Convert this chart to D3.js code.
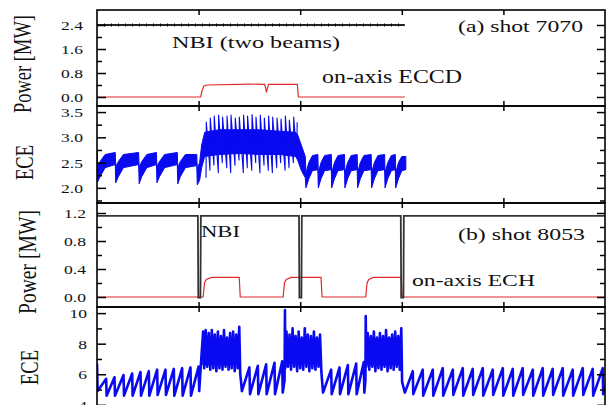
<!DOCTYPE html>
<html><head><meta charset="utf-8">
<script src="https://cdn.jsdelivr.net/npm/d3@7"></script>
<style>html,body{margin:0;padding:0;background:#fff;} svg{display:block;}</style>
</head><body>
<svg id="chart" width="609" height="405"></svg>
<script>
// ================= DATA =================
const timeTicks = [1, 2, 3, 4];

// ---- (a) shot 7070 : power ----
const nbiA_t = [0, 3.03];
const nbiA_v = [2.40, 2.40];
const eccd_t = [0, 1.020, 1.035, 1.050, 1.080, 1.500, 1.650, 1.660, 1.668, 1.676, 1.690, 1.972, 1.982, 3.03];
const eccd_v = [0, 0,     0.22,  0.36,  0.40,  0.43,  0.42,  0.30,  0.15,  0.28,  0.42,  0.42,  0,     0];

// ---- (a) shot 7070 : ECE envelope [t, low, high] ----
const eceA_env = [
  [0.000,2.40,2.72],[0.006,2.12,2.45],[0.030,2.22,2.52],[0.080,2.40,2.66],
  [0.180,2.46,2.70],[0.184,2.10,2.42],[0.210,2.22,2.52],[0.260,2.40,2.66],
  [0.410,2.46,2.70],[0.415,2.08,2.40],[0.440,2.22,2.52],[0.490,2.40,2.66],
  [0.585,2.46,2.70],[0.590,2.10,2.42],[0.615,2.22,2.52],[0.665,2.40,2.66],
  [0.790,2.46,2.70],[0.795,2.08,2.40],[0.820,2.22,2.52],[0.870,2.40,2.66],
  [0.982,2.44,2.66],[0.987,2.06,2.38],[1.010,2.15,2.50],[1.030,2.40,2.85],
  [1.060,2.62,3.10],[1.200,2.66,3.15],[1.400,2.68,3.15],[1.600,2.66,3.15],
  [1.800,2.66,3.12],[1.955,2.62,3.10],[1.975,2.55,3.05],[2.010,2.35,2.85],
  [2.050,2.20,2.62],
  [2.057,2.00,2.30],[2.085,2.18,2.50],[2.120,2.34,2.64],
  [2.174,2.36,2.66],[2.178,2.00,2.30],[2.205,2.18,2.50],[2.240,2.34,2.64],
  [2.306,2.36,2.66],[2.310,2.00,2.30],[2.337,2.18,2.50],[2.372,2.34,2.64],
  [2.436,2.36,2.66],[2.440,2.00,2.30],[2.467,2.18,2.50],[2.502,2.34,2.64],
  [2.561,2.36,2.66],[2.565,2.00,2.30],[2.592,2.18,2.50],[2.627,2.34,2.64],
  [2.699,2.36,2.66],[2.703,2.00,2.30],[2.730,2.18,2.50],[2.765,2.34,2.64],
  [2.831,2.36,2.66],[2.835,2.00,2.30],[2.862,2.18,2.50],[2.897,2.34,2.64],
  [2.936,2.36,2.66],[2.940,2.00,2.30],[2.967,2.18,2.50],[3.000,2.34,2.62],
  [3.040,2.36,2.62]
];
// ECCD-phase sawteeth on ECE (a)
const eceA_spike_t  = [1.073,1.112,1.151,1.194,1.233,1.277,1.316,1.358,1.398,1.440,1.479,1.523,1.562,1.604,1.644,1.686,1.726,1.769,1.808,1.851,1.890,1.933,1.967];
const eceA_spike_hi = [3.30,3.38,3.42,3.44,3.40,3.42,3.44,3.38,3.40,3.44,3.42,3.45,3.40,3.44,3.38,3.42,3.40,3.38,3.36,3.42,3.34,3.40,3.30];
const eceA_spike_lo = [2.20,2.35,2.45,2.30,2.50,2.40,2.30,2.45,2.55,2.30,2.40,2.35,2.50,2.30,2.45,2.35,2.30,2.40,2.50,2.35,2.40,2.50,2.60];

// ---- (b) shot 8053 : power ----
const nbiB_t = [0, 0.993, 0.997, 1.018, 1.022, 1.988, 1.992, 2.012, 2.016, 2.990, 2.994, 3.016, 3.020, 5.0];
const nbiB_v = [1.16, 1.16, -0.01, -0.01, 1.16, 1.16, -0.01, -0.01, 1.16, 1.16, -0.01, -0.01, 1.16, 1.16];
const ech_t = [0, 1.045, 1.058, 1.075, 1.130, 1.400, 1.410, 1.832, 1.845, 1.862, 1.910, 2.205, 2.215, 2.645, 2.658, 2.675, 2.720, 2.995, 3.003, 5.0];
const ech_v = [0, 0,     0.20,  0.25,  0.28,  0.28,  0,     0,     0.20,  0.25,  0.28,  0.28,  0,     0,     0.20,  0.25,  0.28,  0.28,  0,     0];

// ---- (b) shot 8053 : ECE trace [t, value] ----
const eceB_line = [
  [0.000,6.70],[0.006,4.90],[0.090,5.70],[0.095,4.60],[0.172,5.80],[0.177,4.60],
  [0.261,5.95],[0.266,4.60],[0.346,6.05],[0.351,4.60],[0.428,6.15],[0.433,4.60],
  [0.510,6.20],[0.515,4.60],[0.592,6.30],[0.597,4.65],[0.674,6.30],[0.679,4.65],
  [0.756,6.35],[0.761,4.60],[0.838,6.40],[0.843,4.60],[0.920,6.45],[0.925,4.60],
  [1.000,6.50],[1.006,4.90],[1.030,7.40],
  [1.045,8.8],[1.055,6.4],[1.070,8.9],[1.085,6.5],[1.100,8.7],[1.115,6.3],[1.130,8.9],
  [1.145,6.4],[1.160,8.6],[1.175,6.2],[1.190,8.8],[1.205,6.4],[1.220,8.5],[1.235,6.3],
  [1.250,8.9],[1.265,6.5],[1.280,8.4],[1.295,6.3],[1.310,8.7],[1.325,6.4],[1.340,8.8],
  [1.355,6.2],[1.370,8.6],[1.385,6.4],[1.400,9.1],[1.410,6.0],[1.418,5.5],
  [1.426,4.90],[1.500,6.45],[1.506,4.70],[1.583,6.55],[1.588,4.70],[1.665,6.65],
  [1.670,4.70],[1.747,6.75],[1.752,4.70],[1.823,6.85],[1.828,4.80],[1.846,5.60],
  [1.850,10.2],[1.853,6.4],
  [1.865,8.8],[1.880,6.5],[1.895,8.6],[1.910,6.3],[1.925,9.0],[1.940,6.5],[1.955,8.5],
  [1.970,6.2],[1.985,8.8],[2.000,6.4],[2.015,8.4],[2.030,6.3],[2.045,9.0],[2.060,6.5],
  [2.075,8.6],[2.090,6.2],[2.105,8.5],[2.120,6.4],[2.135,8.8],[2.150,6.3],[2.165,8.4],
  [2.180,6.5],[2.195,8.6],[2.208,6.2],[2.215,5.6],
  [2.225,4.80],[2.305,6.30],[2.310,4.70],[2.387,6.45],[2.392,4.70],[2.469,6.60],
  [2.474,4.70],[2.551,6.70],[2.556,4.70],[2.626,6.80],[2.631,4.80],[2.642,5.60],
  [2.645,9.80],[2.650,6.5],
  [2.665,8.7],[2.680,6.3],[2.695,8.5],[2.710,6.5],[2.725,8.8],[2.740,6.2],[2.755,8.4],
  [2.770,6.4],[2.785,8.7],[2.800,6.3],[2.815,8.5],[2.830,6.5],[2.845,8.9],[2.860,6.2],
  [2.875,8.4],[2.890,6.4],[2.905,8.6],[2.920,6.3],[2.935,8.8],[2.950,6.5],[2.965,8.5],
  [2.980,6.3],[2.995,9.0],[3.003,5.5],
  [3.030,4.80],[3.108,6.20],[3.113,4.70],[3.206,6.30],[3.211,4.60],[3.305,6.30],
  [3.310,4.60],[3.403,6.40],[3.408,4.60],[3.502,6.30],[3.507,4.65],[3.600,6.40],
  [3.605,4.60],[3.698,6.35],[3.703,4.65],[3.797,6.40],[3.802,4.60],[3.895,6.30],
  [3.900,4.65],[3.994,6.40],[3.999,4.60],[4.092,6.35],[4.097,4.60],[4.190,6.40],
  [4.195,4.65],[4.289,6.30],[4.294,4.60],[4.387,6.40],[4.392,4.60],[4.485,6.35],
  [4.490,4.65],[4.584,6.40],[4.589,4.60],[4.682,6.30],[4.687,4.60],[4.781,6.40],
  [4.786,4.65],[4.879,6.35],[4.884,4.60],[4.978,6.40],[4.982,4.70],[5.000,5.30]
];
// ECH-phase core band of ECE (b) [t, low, high]
const eceB_band = [
  [1.035,6.6,8.2],[1.400,6.6,8.3],[1.405,null,null],
  [1.856,6.7,8.3],[2.205,6.6,8.2],[2.21,null,null],
  [2.652,6.6,8.3],[2.995,6.6,8.4]
];

// y-axis ticks
const pA_major = [0, 0.8, 1.6, 2.4], pA_minor = [0.4, 1.2, 2.0];
const eA_major = [2.0, 2.5, 3.0, 3.5], eA_minor = [1.75, 2.25, 2.75, 3.25];
const pB_major = [0, 0.4, 0.8, 1.2], pB_minor = [0.2, 0.6, 1.0];
const eB_major = [4, 6, 8, 10], eB_minor = [5, 7, 9];

// ================= DRAWING =================
const svg = d3.select('#chart');
const FONT = '"Liberation Serif","Times New Roman",serif';
const x = d3.scaleLinear().domain([0, 5]).range([97, 605]);

const panels = [
  {top:10,  bottom:106, domain:[-0.3, 2.9],    major:pA_major, minor:pA_minor, fmt:d3.format('.1f'), lx:83},
  {top:106, bottom:203, domain:[1.70, 3.62],   major:eA_major, minor:eA_minor, fmt:d3.format('.1f'), lx:83},
  {top:203, bottom:307, domain:[-0.143, 1.343],major:pB_major, minor:pB_minor, fmt:d3.format('.1f'), lx:86},
  {top:307, bottom:414, domain:[3.4, 10.4],    major:eB_major, minor:eB_minor, fmt:d3.format('d'),   lx:87}
];
panels.forEach((p, i) => {
  p.y = d3.scaleLinear().domain(p.domain).range([p.bottom, p.top]);
  svg.append('clipPath').attr('id', 'clip' + i)
    .append('rect').attr('x', 97).attr('y', p.top).attr('width', 508).attr('height', p.bottom - p.top);
  p.g = svg.append('g').attr('clip-path', `url(#clip${i})`);
});

const BLUE = '#0a0af0', RED = '#e02a2a';
const zipLine = (ts, vs) => ts.map((t, i) => [t, vs[i]]);

// Panel 0: power (a)
{
  const p = panels[0];
  const line = d3.line().x(d => x(d[0])).y(d => p.y(d[1]));
  p.g.append('path').attr('d', line(zipLine(nbiA_t, nbiA_v)))
    .attr('fill', 'none').attr('stroke', '#222').attr('stroke-width', 2.2);
  p.g.append('path').attr('d', line(zipLine(nbiA_t, nbiA_v)))
    .attr('fill', 'none').attr('stroke', '#000').attr('stroke-width', 3).attr('stroke-dasharray', '1,6');
  p.g.append('path').attr('d', line(zipLine(eccd_t, eccd_v)))
    .attr('fill', 'none').attr('stroke', RED).attr('stroke-width', 1.2);
}
// Panel 1: ECE (a)
{
  const p = panels[1];
  const area = d3.area().x(d => x(d[0])).y0(d => p.y(d[1])).y1(d => p.y(d[2]));
  p.g.append('path').attr('d', area(eceA_env)).attr('fill', BLUE)
    .attr('stroke', BLUE).attr('stroke-width', 1);
  const pts = [];
  eceA_spike_t.forEach((t, i) => {
    pts.push([t, eceA_spike_lo[i]]);
    pts.push([t + 0.003, eceA_spike_hi[i]]);
  });
  const line = d3.line().x(d => x(d[0])).y(d => p.y(d[1]));
  p.g.append('path').attr('d', line(pts)).attr('fill', 'none')
    .attr('stroke', BLUE).attr('stroke-width', 1.1).attr('stroke-linejoin', 'round');
}
// Panel 2: power (b)
{
  const p = panels[2];
  const line = d3.line().x(d => x(d[0])).y(d => p.y(d[1]));
  p.g.append('path').attr('d', line(zipLine(ech_t, ech_v)))
    .attr('fill', 'none').attr('stroke', RED).attr('stroke-width', 1.2);
  p.g.append('path').attr('d', line(zipLine(nbiB_t, nbiB_v)))
    .attr('fill', 'none').attr('stroke', '#333').attr('stroke-width', 1.8);
}
// Panel 3: ECE (b)
{
  const p = panels[3];
  const area = d3.area().defined(d => d[1] !== null)
    .x(d => x(d[0])).y0(d => p.y(d[1])).y1(d => p.y(d[2]));
  p.g.append('path').attr('d', area(eceB_band)).attr('fill', BLUE);
  const line = d3.line().x(d => x(d[0])).y(d => p.y(d[1]));
  p.g.append('path').attr('d', line(eceB_line)).attr('fill', 'none')
    .attr('stroke', BLUE).attr('stroke-width', 2.6).attr('stroke-linejoin', 'round');
}

// Frames and axes
panels.forEach((p, i) => {
  const ax = svg.append('g').attr('class', 'axes');
  const gl = ax.append('g').attr('transform', 'translate(97,0)')
    .call(d3.axisLeft(p.y).tickValues(p.major).tickSize(-9).tickPadding(0).tickFormat(p.fmt));
  gl.selectAll('text').attr('x', 0).attr('dy', '0.34em')
    .attr('transform', `translate(${p.lx - 97},0) scale(1.3,1)`)
    .style('font-family', FONT).style('font-size', '13.5px').attr('fill', '#111');
  ax.append('g').attr('transform', 'translate(97,0)')
    .call(d3.axisLeft(p.y).tickValues(p.minor).tickSize(-5).tickFormat(''));
  ax.append('g').attr('transform', 'translate(605,0)')
    .call(d3.axisRight(p.y).tickValues(p.major).tickSize(-8).tickFormat(''));
  ax.append('g').attr('transform', 'translate(605,0)')
    .call(d3.axisRight(p.y).tickValues(p.minor).tickSize(-5).tickFormat(''));
  ax.append('g').attr('transform', `translate(0,${p.top})`)
    .call(d3.axisTop(x).tickValues(timeTicks).tickSize(-5).tickFormat(''));
  ax.append('g').attr('transform', `translate(0,${p.bottom})`)
    .call(d3.axisBottom(x).tickValues(timeTicks).tickSize(-5).tickFormat(''));
  ax.selectAll('.domain').remove();
  ax.selectAll('line').attr('stroke', '#000').attr('stroke-width', 1.5);
  svg.append('rect').attr('x', 97).attr('y', p.top).attr('width', 508).attr('height', p.bottom - p.top)
    .attr('fill', 'none').attr('stroke', '#000').attr('stroke-width', 1.6);
});

// In-plot annotations
const notes = [
  {s:'NBI (two beams)', x:172, y:47.5, w:168, fs:17.5},
  {s:'on-axis ECCD',    x:322, y:83,   w:140, fs:18},
  {s:'(a) shot 7070',   x:458, y:31.5, w:125, fs:17},
  {s:'NBI',             x:201, y:237,  w:39,  fs:16.5},
  {s:'(b) shot 8053',   x:458, y:240,  w:127, fs:17},
  {s:'on-axis ECH',     x:412, y:286,  w:123, fs:17}
];
svg.selectAll('text.note').data(notes).join('text').attr('class', 'note')
  .attr('x', d => d.x).attr('y', d => d.y).text(d => d.s)
  .attr('textLength', d => d.w).attr('lengthAdjust', 'spacingAndGlyphs')
  .style('font-family', FONT).style('font-size', d => d.fs + 'px').attr('fill', '#111');

// Y-axis titles (rotated)
const ytitles = [
  {s:'Power [MW]', x:30.5, y:64,    len:98},
  {s:'ECE',        x:33,   y:162.5, len:35},
  {s:'Power [MW]', x:35.5, y:262,   len:104},
  {s:'ECE',        x:38,   y:367.5, len:35}
];
svg.selectAll('text.ytitle').data(ytitles).join('text').attr('class', 'ytitle')
  .attr('transform', d => `translate(${d.x},${d.y}) scale(1.4,1) rotate(-90)`)
  .attr('text-anchor', 'middle').text(d => d.s)
  .attr('textLength', d => d.len).attr('lengthAdjust', 'spacingAndGlyphs')
  .style('font-family', FONT).style('font-size', '18.5px').attr('fill', '#111');
</script>
</body></html>
